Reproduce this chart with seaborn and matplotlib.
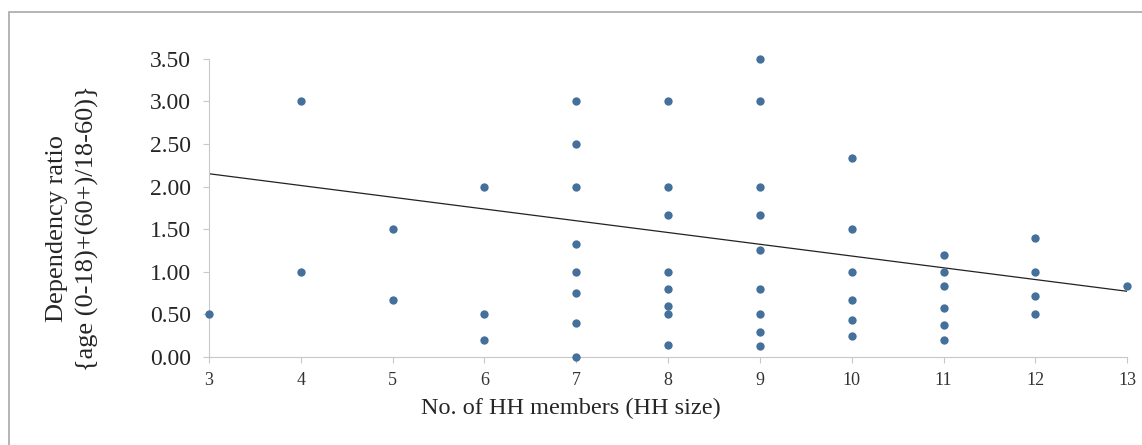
import matplotlib
matplotlib.use('Agg')
import matplotlib.pyplot as plt
import seaborn as sns
import pandas as pd
from matplotlib.patches import Rectangle

# household size and dependency ratio, one entry per household
hh_size = [3,
           4, 4,
           5, 5,
           6, 6, 6,
           7, 7, 7, 7, 7, 7, 7, 7,
           8, 8, 8, 8, 8, 8, 8, 8,
           9, 9, 9, 9, 9, 9, 9, 9, 9,
           10, 10, 10, 10, 10, 10,
           11, 11, 11, 11, 11, 11,
           12, 12, 12, 12,
           13]
dep_ratio = [0.50,
             3.00, 1.00,
             1.50, 0.67,
             2.00, 0.50, 0.20,
             3.00, 2.50, 2.00, 1.33, 1.00, 0.75, 0.40, 0.00,
             3.00, 2.00, 1.67, 1.00, 0.80, 0.60, 0.50, 0.14,
             3.50, 3.00, 2.00, 1.67, 1.25, 0.80, 0.50, 0.29, 0.13,
             2.33, 1.50, 1.00, 0.67, 0.43, 0.25,
             1.20, 1.00, 0.83, 0.57, 0.38, 0.20,
             1.40, 1.00, 0.71, 0.50,
             0.83]

# linear trendline as printed in the source figure (end values)
trend_size = [3, 13]
trend_ratio = [2.15, 0.77]

x_ticks = [3, 4, 5, 6, 7, 8, 9, 10, 11, 12, 13]
y_ticks = [0.0, 0.5, 1.0, 1.5, 2.0, 2.5, 3.0, 3.5]

df = pd.DataFrame({'size': hh_size, 'ratio': dep_ratio})
trend = pd.DataFrame({'size': trend_size, 'ratio': trend_ratio})

sns.set_style('white')
plt.rcParams['font.family'] = ['Liberation Serif', 'DejaVu Serif']

fig = plt.figure(figsize=(11.42, 4.45), dpi=100)
ax = fig.add_axes([0.183, 0.198, 0.804, 0.670])

sns.lineplot(data=trend, x='size', y='ratio', ax=ax, color='#222222', lw=0.9)
sns.scatterplot(data=df, x='size', y='ratio', ax=ax, s=36, color='#44709a',
                linewidth=0, clip_on=False, zorder=3)

ax.set_xlim(3, 13)
ax.set_ylim(0, 3.5)
ax.set_xticks(x_ticks)
ax.set_yticks(y_ticks)
ax.set_yticklabels([f'{v:.2f}' for v in y_ticks], fontsize=17)
ax.set_xticklabels([str(v) for v in x_ticks], fontsize=13, color='#333333')

for s in ['top', 'right']:
    ax.spines[s].set_visible(False)
for s in ['left', 'bottom']:
    ax.spines[s].set_color('#c8c8c8')
    ax.spines[s].set_linewidth(0.8)
ax.tick_params(axis='both', which='major', length=4, width=0.8,
               color='#c8c8c8', left=True, bottom=True)
ax.tick_params(axis='y', pad=9)
ax.tick_params(axis='x', pad=7)

ax.set_xlabel('No. of HH members (HH size)', fontsize=17.5)
ax.xaxis.set_label_coords(0.394, -0.138)
ax.set_ylabel('Dependency ratio\n{age (0-18)+(60+)/18-60)}', fontsize=19,
              linespacing=1.45)
ax.yaxis.set_label_coords(-0.120, 0.43)

fig.patches.append(Rectangle((9 / 1142, -0.1), 1.2, 1.1 - 12 / 445,
                             transform=fig.transFigure, fill=False,
                             edgecolor='#a8a8a8', lw=1.2))

fig.savefig('out.png', dpi=100)
